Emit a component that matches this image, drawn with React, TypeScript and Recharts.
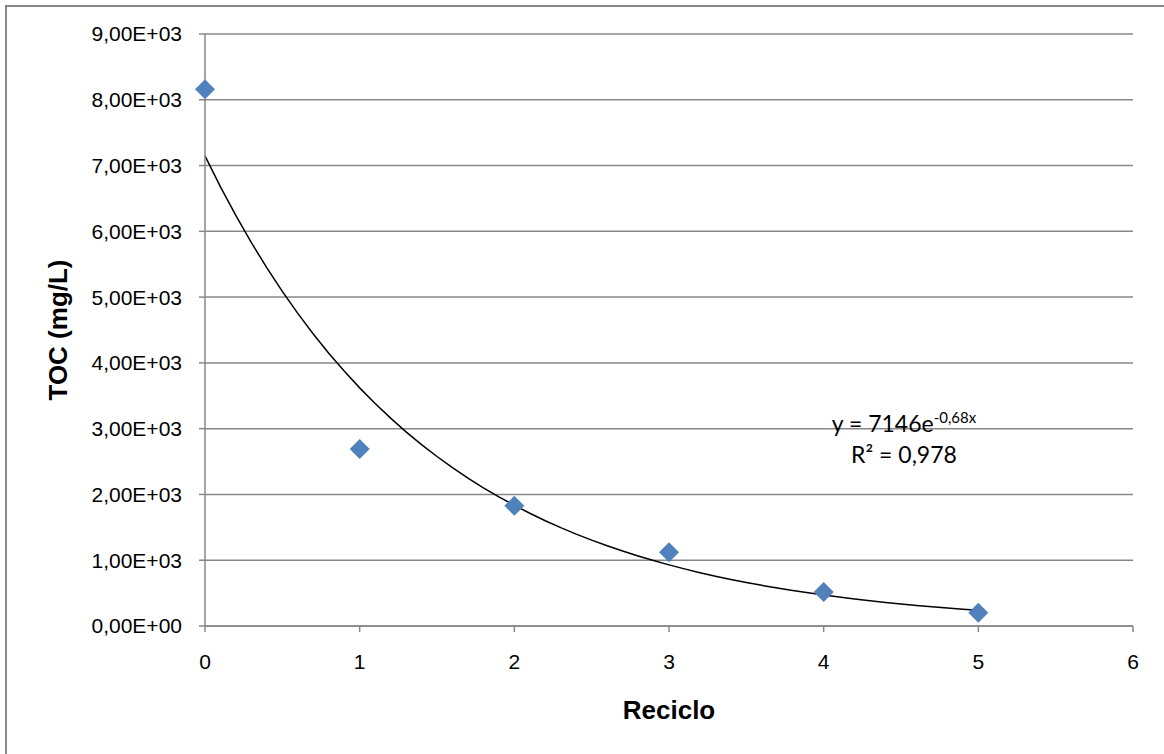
import { ComposedChart, Scatter, Line, XAxis, YAxis, CartesianGrid } from 'recharts';

// Measured TOC after each recycle step
const RECICLO = [0, 1, 2, 3, 4, 5];
const TOC = [8160, 2690, 1827, 1122, 518, 203];

// Exponential trendline coefficients (y = A * e^(k x)) and its fit quality
const TREND_A = 7146;
const TREND_K = -0.68;
const TREND_R2 = '0,978';
const TREND_STEPS = 50;

const X_TICKS = [0, 1, 2, 3, 4, 5, 6];
const Y_TICKS = [0, 1000, 2000, 3000, 4000, 5000, 6000, 7000, 8000, 9000];
const Y_TICK_LABELS = [
  '0,00E+00', '1,00E+03', '2,00E+03', '3,00E+03', '4,00E+03',
  '5,00E+03', '6,00E+03', '7,00E+03', '8,00E+03', '9,00E+03',
];

const WIDTH = 1164;
const HEIGHT = 754;
const AXIS_GRAY = '#878787';
const MARKER_BLUE = '#4F81BD';
const FONT = '"Liberation Sans", Arial, sans-serif';

const points = RECICLO.map((x, i) => ({ x, y: TOC[i] }));

// trendline evaluated over the span of the measured data
const xMax = RECICLO[RECICLO.length - 1];
const trend = Array.from({ length: TREND_STEPS + 1 }, (_, i) => {
  const x = (xMax * i) / TREND_STEPS;
  return { x, y: TREND_A * Math.exp(TREND_K * x) };
});

const formatY = (v: number) => {
  const idx = Y_TICKS.indexOf(v);
  return idx >= 0 ? Y_TICK_LABELS[idx] : String(v);
};

const Diamond = (props: any) => {
  const { cx, cy } = props;
  if (cx == null || cy == null) return null;
  const r = 10;
  return (
    <polygon
      points={`${cx},${cy - r} ${cx + r},${cy} ${cx},${cy + r} ${cx - r},${cy}`}
      fill={MARKER_BLUE}
    />
  );
};

const YTitle = (props: any) => {
  const vb = props.viewBox || { x: 0, y: 34, width: 205, height: 592 };
  const cy = vb.y + vb.height / 2;
  const x = 67;
  return (
    <text
      x={x}
      y={cy}
      transform={`rotate(-90, ${x}, ${cy})`}
      textAnchor="middle"
      fontFamily={FONT}
      fontWeight="bold"
      fontSize={26}
      fill="#000"
    >
      TOC (mg/L)
    </text>
  );
};

const XTitle = (props: any) => {
  const vb = props.viewBox || { x: 205, y: 626, width: 928, height: 128 };
  return (
    <text
      x={vb.x + vb.width / 2}
      y={vb.y + 93}
      textAnchor="middle"
      fontFamily={FONT}
      fontWeight="bold"
      fontSize={26}
      fill="#000"
    >
      Reciclo
    </text>
  );
};

export default function App() {
  const tickStyle = { fontSize: 21, fill: '#000', fontFamily: FONT };

  return (
    <div style={{ position: 'fixed', left: 0, top: 0, width: WIDTH, height: HEIGHT, background: '#fff' }}>
      {/* chart frame: only top and left edges are visible */}
      <div
        style={{
          position: 'absolute',
          left: 5,
          top: 5,
          right: 0,
          bottom: 0,
          borderLeft: `2px solid ${AXIS_GRAY}`,
          borderTop: `2px solid ${AXIS_GRAY}`,
        }}
      />
      <div style={{ position: 'absolute', left: 0, top: 0 }}>
        <ComposedChart
          width={WIDTH}
          height={HEIGHT}
          margin={{ top: 34, right: 31, left: 0, bottom: 0 }}
        >
          <CartesianGrid vertical={false} stroke={AXIS_GRAY} strokeWidth={1.5} />
          <XAxis
            type="number"
            dataKey="x"
            domain={[0, 6]}
            ticks={X_TICKS}
            interval={0}
            height={128}
            stroke={AXIS_GRAY}
            strokeWidth={1.5}
            tickSize={6}
            tickMargin={22}
            tick={tickStyle}
            label={{ content: XTitle }}
          />
          <YAxis
            type="number"
            dataKey="y"
            domain={[0, 9000]}
            ticks={Y_TICKS}
            interval={0}
            width={205}
            stroke={AXIS_GRAY}
            strokeWidth={1.5}
            tickSize={6}
            tickMargin={17}
            tick={tickStyle}
            tickFormatter={formatY}
            label={{ content: YTitle }}
          />
          <Scatter data={points} dataKey="y" shape={Diamond} isAnimationActive={false} />
          <Line
            data={trend}
            dataKey="y"
            type="linear"
            stroke="#000"
            strokeWidth={1.5}
            dot={false}
            activeDot={false}
            isAnimationActive={false}
          />
        </ComposedChart>
      </div>
      {/* trendline equation box */}
      <svg
        width={WIDTH}
        height={HEIGHT}
        style={{ position: 'absolute', left: 0, top: 0, pointerEvents: 'none' }}
      >
        <text x={904} y={432} textAnchor="middle" fontFamily="Lato, sans-serif" fontSize={23} fill="#000">
          <tspan>y = {TREND_A}e</tspan>
          <tspan dy={-9} fontSize={15}>{String(TREND_K).replace('.', ',')}x</tspan>
        </text>
        <text x={904} y={463} textAnchor="middle" fontFamily="Lato, sans-serif" fontSize={23} fill="#000">
          R² = {TREND_R2}
        </text>
      </svg>
    </div>
  );
}
